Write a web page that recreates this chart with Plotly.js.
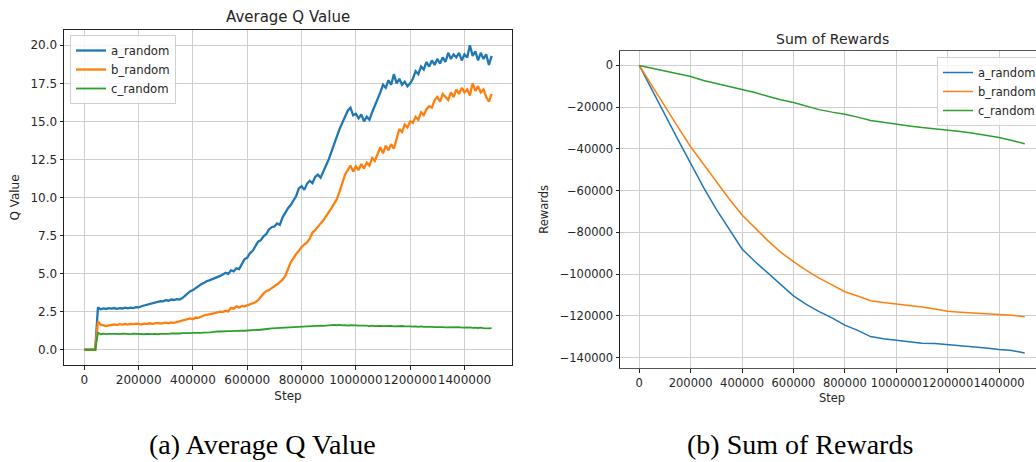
<!DOCTYPE html>
<html>
<head>
<meta charset="utf-8">
<script src="https://cdn.plot.ly/plotly-3.0.1.min.js"></script>
<style>
html,body{margin:0;padding:0;background:#fff;}
#wrap{width:1036px;height:462px;overflow:hidden;position:relative;}
#plot{width:1050px;height:462px;}
</style>
</head>
<body>
<div id="wrap"><div id="plot"></div></div>
<script>
// ---- Data: Average Q Value (sampled every 10000 steps, 0 .. 1,500,000) ----
const qStepSize = 10000;
const qA = [
 0, 0, 0, 0, 0, 2.78, 2.66, 2.72, 2.68, 2.73,
 2.70, 2.74, 2.69, 2.73, 2.71, 2.76, 2.72, 2.77, 2.74, 2.80,
 2.78, 2.86, 2.90, 2.94, 3.00, 3.04, 3.10, 3.14, 3.20, 3.18,
 3.26, 3.22, 3.30, 3.27, 3.33, 3.30, 3.38, 3.55, 3.72, 3.85,
 3.92, 4.05, 4.15, 4.30, 4.38, 4.50, 4.56, 4.62, 4.70, 4.78,
 4.85, 4.95, 5.05, 4.98, 5.22, 5.15, 5.35, 5.30, 5.62, 5.95,
 6.05, 6.35, 6.50, 6.85, 7.10, 7.20, 7.45, 7.60, 7.90, 8.05,
 8.10, 8.30, 8.20, 8.70, 9.00, 9.30, 9.50, 9.85, 10.1, 10.6,
 10.75, 10.5, 10.9, 11.1, 10.95, 11.35, 11.5, 11.3, 11.75, 12.1,
 12.5, 13.0, 13.6, 14.1, 14.5, 14.9, 15.3, 15.7, 15.9, 15.4,
 15.5, 15.2, 15.45, 15.0, 15.3, 15.1, 15.6, 16.0, 16.5, 16.9,
 17.4, 17.2, 17.7, 17.4, 18.1, 17.5, 17.8, 17.4, 17.6, 17.3,
 17.5, 17.8, 18.3, 18.1, 18.6, 18.4, 18.9, 18.6, 19.0, 18.7,
 19.1, 18.8, 19.2, 18.9, 19.5, 19.1, 19.4, 19.2, 19.5, 19.0,
 19.4, 19.2, 20.0, 19.3, 19.6, 19.0, 19.5, 19.1, 19.4, 18.7,
 19.3
];
const qB = [
 0, 0, 0, 0, 0, 1.85, 1.65, 1.60, 1.55, 1.60,
 1.63, 1.66, 1.62, 1.68, 1.65, 1.70, 1.66, 1.70, 1.68, 1.72,
 1.70, 1.66, 1.72, 1.69, 1.74, 1.70, 1.73, 1.76, 1.72, 1.75,
 1.78, 1.74, 1.80, 1.77, 1.82, 1.84, 1.88, 1.95, 2.00, 2.06,
 2.00, 2.12, 2.10, 2.20, 2.25, 2.30, 2.32, 2.38, 2.40, 2.45,
 2.50, 2.48, 2.56, 2.52, 2.75, 2.70, 2.85, 2.78, 2.88, 2.85,
 2.92, 2.98, 3.05, 3.12, 3.25, 3.50, 3.70, 3.85, 3.92, 4.05,
 4.15, 4.30, 4.45, 4.60, 4.85, 5.30, 5.75, 6.00, 6.30, 6.50,
 6.75, 6.90, 7.05, 7.30, 7.70, 7.85, 8.10, 8.30, 8.50, 8.75,
 9.05, 9.30, 9.60, 9.90, 10.4, 11.0, 11.5, 11.8, 12.1, 11.7,
 12.05, 11.8, 12.2, 11.9, 12.3, 12.1, 12.6, 12.4, 12.9, 13.3,
 12.9, 13.4, 13.1, 13.5, 13.2, 13.9, 14.5, 14.3, 14.8, 14.6,
 15.0, 14.9, 15.3, 15.1, 15.6, 15.4, 15.8, 16.0, 15.9, 16.4,
 16.6, 16.3, 16.8, 16.6, 16.4, 16.9, 16.6, 17.1, 16.8, 17.2,
 16.9, 17.1, 16.7, 17.5, 17.0, 17.3, 16.9, 17.1, 16.6, 16.3,
 16.8
];
const qC = [
 0, 0, 0, 0, 0, 1.12, 1.02, 1.06, 1.03, 1.05,
 1.02, 1.04, 1.05, 1.03, 1.06, 1.04, 1.05, 1.03, 1.06, 1.04,
 1.05, 1.03, 1.02, 1.04, 1.01, 1.03, 1.04, 1.02, 1.05, 1.04,
 1.06, 1.05, 1.07, 1.06, 1.08, 1.07, 1.09, 1.08, 1.10, 1.09,
 1.11, 1.10, 1.12, 1.11, 1.13, 1.12, 1.14, 1.16, 1.19, 1.21,
 1.20, 1.22, 1.21, 1.23, 1.22, 1.24, 1.23, 1.25, 1.26, 1.25,
 1.27, 1.28, 1.30, 1.31, 1.30, 1.33, 1.35, 1.36, 1.38, 1.40,
 1.41, 1.43, 1.45, 1.47, 1.48, 1.50, 1.49, 1.51, 1.50, 1.52,
 1.51, 1.53, 1.54, 1.56, 1.55, 1.57, 1.56, 1.58, 1.57, 1.60,
 1.59, 1.62, 1.64, 1.61, 1.63, 1.60, 1.62, 1.59, 1.61, 1.58,
 1.60, 1.58, 1.59, 1.57, 1.58, 1.56, 1.58, 1.55, 1.57, 1.56,
 1.55, 1.57, 1.54, 1.56, 1.53, 1.55, 1.54, 1.56, 1.53, 1.55,
 1.54, 1.52, 1.54, 1.51, 1.53, 1.50, 1.52, 1.50, 1.51, 1.49,
 1.50, 1.48, 1.49, 1.47, 1.48, 1.46, 1.48, 1.47, 1.49, 1.46,
 1.48, 1.45, 1.47, 1.44, 1.46, 1.43, 1.45, 1.42, 1.44, 1.41,
 1.42
];
const qSteps = qA.map((_, i) => i * qStepSize);

// ---- Data: Sum of Rewards (every 50000 steps, 0 .. 1,500,000) ----
const rSteps = [0, 50000, 100000, 150000, 200000, 250000, 300000, 350000, 400000, 450000,
  500000, 550000, 600000, 650000, 700000, 750000, 800000, 850000, 900000, 950000,
  1000000, 1050000, 1100000, 1150000, 1200000, 1250000, 1300000, 1350000, 1400000, 1450000, 1500000];
const rA = [0, -12000, -23500, -35500, -47000, -58500, -69000, -78500, -88000, -94000,
  -99500, -105000, -110500, -114500, -118000, -121000, -124500, -127000, -130000, -131000,
  -131700, -132500, -133200, -133300, -133800, -134500, -134900, -135500, -136200, -136700, -137800];
const rB = [0, -10000, -20000, -29500, -39000, -47500, -56000, -64000, -71700, -78000,
  -84000, -89500, -94100, -98200, -102000, -105200, -108500, -110500, -112800, -113700,
  -114400, -115000, -115800, -116800, -117800, -118300, -118600, -119000, -119400, -119800, -120500];
const rC = [0, -1200, -2700, -4000, -5300, -7200, -8700, -10000, -11400, -13000,
  -14800, -16500, -17800, -19600, -21200, -22400, -23400, -24800, -26400, -27300,
  -28000, -29000, -29800, -30400, -30900, -31700, -32500, -33500, -34600, -36000, -37600];

const seriesNames = ['a_random', 'b_random', 'c_random'];
const colors = ['#1f77b4', '#ff7f0e', '#2ca02c'];
const titles = ['Average Q Value', 'Sum of Rewards'];
const captions = ['(a) Average Q Value', '(b) Sum of Rewards'];

const W = 1050, H = 462;
const FONT = 'DejaVu Sans, sans-serif';
const px = v => v / W, py = v => (H - v) / H;

const qVals = [qA, qB, qC];
const qWidths = [2.3, 2.3, 1.8];
const rVals = [rA, rB, rC];
const traces = [];
qVals.forEach((ys, i) => traces.push({
  x: qSteps, y: ys, type: 'scatter', mode: 'lines', name: seriesNames[i],
  line: {color: colors[i], width: qWidths[i]}, xaxis: 'x', yaxis: 'y', legend: 'legend'
}));
rVals.forEach((ys, i) => traces.push({
  x: rSteps, y: ys, type: 'scatter', mode: 'lines', name: seriesNames[i],
  line: {color: colors[i], width: 1.5}, xaxis: 'x2', yaxis: 'y2', legend: 'legend2'
}));

const gridCol = '#cfcfcf';
const axBase = {
  showgrid: true, gridcolor: gridCol, gridwidth: 1, zeroline: false,
  ticks: 'outside', ticklen: 3.5, tickwidth: 1, tickcolor: '#222',
  showline: true, mirror: true, linecolor: '#222', linewidth: 1,
  automargin: false, color: '#262626', tickangle: 0
};

const layout = {
  width: W, height: H, margin: {l: 0, r: 0, t: 0, b: 0},
  paper_bgcolor: '#fff', plot_bgcolor: '#fff',
  font: {family: FONT, size: 12, color: '#262626'},
  showlegend: true,
  xaxis: Object.assign({}, axBase, {
    domain: [px(64), px(512)], anchor: 'y', range: [-75000, 1575000],
    tick0: 0, dtick: 200000, tickformat: 'd', tickfont: {size: 12},
    title: {text: 'Step', font: {size: 12}, standoff: 5}
  }),
  yaxis: Object.assign({}, axBase, {
    domain: [py(365), py(30)], anchor: 'x', range: [-1.0, 21.0],
    tick0: 0, dtick: 2.5, tickformat: '.1f', tickfont: {size: 12},
    title: {text: 'Q Value', font: {size: 12}, standoff: 8}
  }),
  xaxis2: Object.assign({}, axBase, {
    domain: [px(620), px(1044)], anchor: 'y2', range: [-75000, 1575000],
    tick0: 0, dtick: 200000, tickformat: 'd', tickfont: {size: 11.5},
    linecolor: '#555', linewidth: 1.5,
    title: {text: 'Step', font: {size: 11.5}, standoff: 5}
  }),
  yaxis2: Object.assign({}, axBase, {
    domain: [py(367.7), py(51)], anchor: 'x2', range: [-144900, 6900],
    tick0: 0, dtick: 20000, tickformat: 'd', tickfont: {size: 11.5},
    title: {text: 'Rewards', font: {size: 11.5}, standoff: 8}
  }),
  legend: {
    x: px(70), y: py(35), xanchor: 'left', yanchor: 'top',
    bgcolor: 'rgba(255,255,255,0.8)', bordercolor: '#d0d0d0', borderwidth: 1,
    font: {family: FONT, size: 11.7, color: '#262626'}, tracegroupgap: 0
  },
  legend2: {
    x: px(937), y: py(57), xanchor: 'left', yanchor: 'top',
    bgcolor: 'rgba(255,255,255,0.8)', bordercolor: '#d0d0d0', borderwidth: 1,
    font: {family: FONT, size: 11.5, color: '#262626'}, tracegroupgap: 0
  },
  annotations: [
    {text: titles[0], xref: 'paper', yref: 'paper', x: px(288), y: py(17), showarrow: false,
     xanchor: 'center', yanchor: 'middle', font: {family: FONT, size: 15, color: '#262626'}},
    {text: titles[1], xref: 'paper', yref: 'paper', x: px(832), y: py(39), showarrow: false,
     xanchor: 'center', yanchor: 'middle', font: {family: FONT, size: 14, color: '#262626'}},
    {text: captions[0], xref: 'paper', yref: 'paper', x: px(262), y: py(444), showarrow: false,
     xanchor: 'center', yanchor: 'middle', font: {family: 'Liberation Serif, Times New Roman, serif', size: 28, color: '#000'}},
    {text: captions[1], xref: 'paper', yref: 'paper', x: px(800), y: py(444), showarrow: false,
     xanchor: 'center', yanchor: 'middle', font: {family: 'Liberation Serif, Times New Roman, serif', size: 28, color: '#000'}}
  ]
};

Plotly.newPlot('plot', traces, layout, {staticPlot: true, displayModeBar: false});
</script>
</body>
</html>
